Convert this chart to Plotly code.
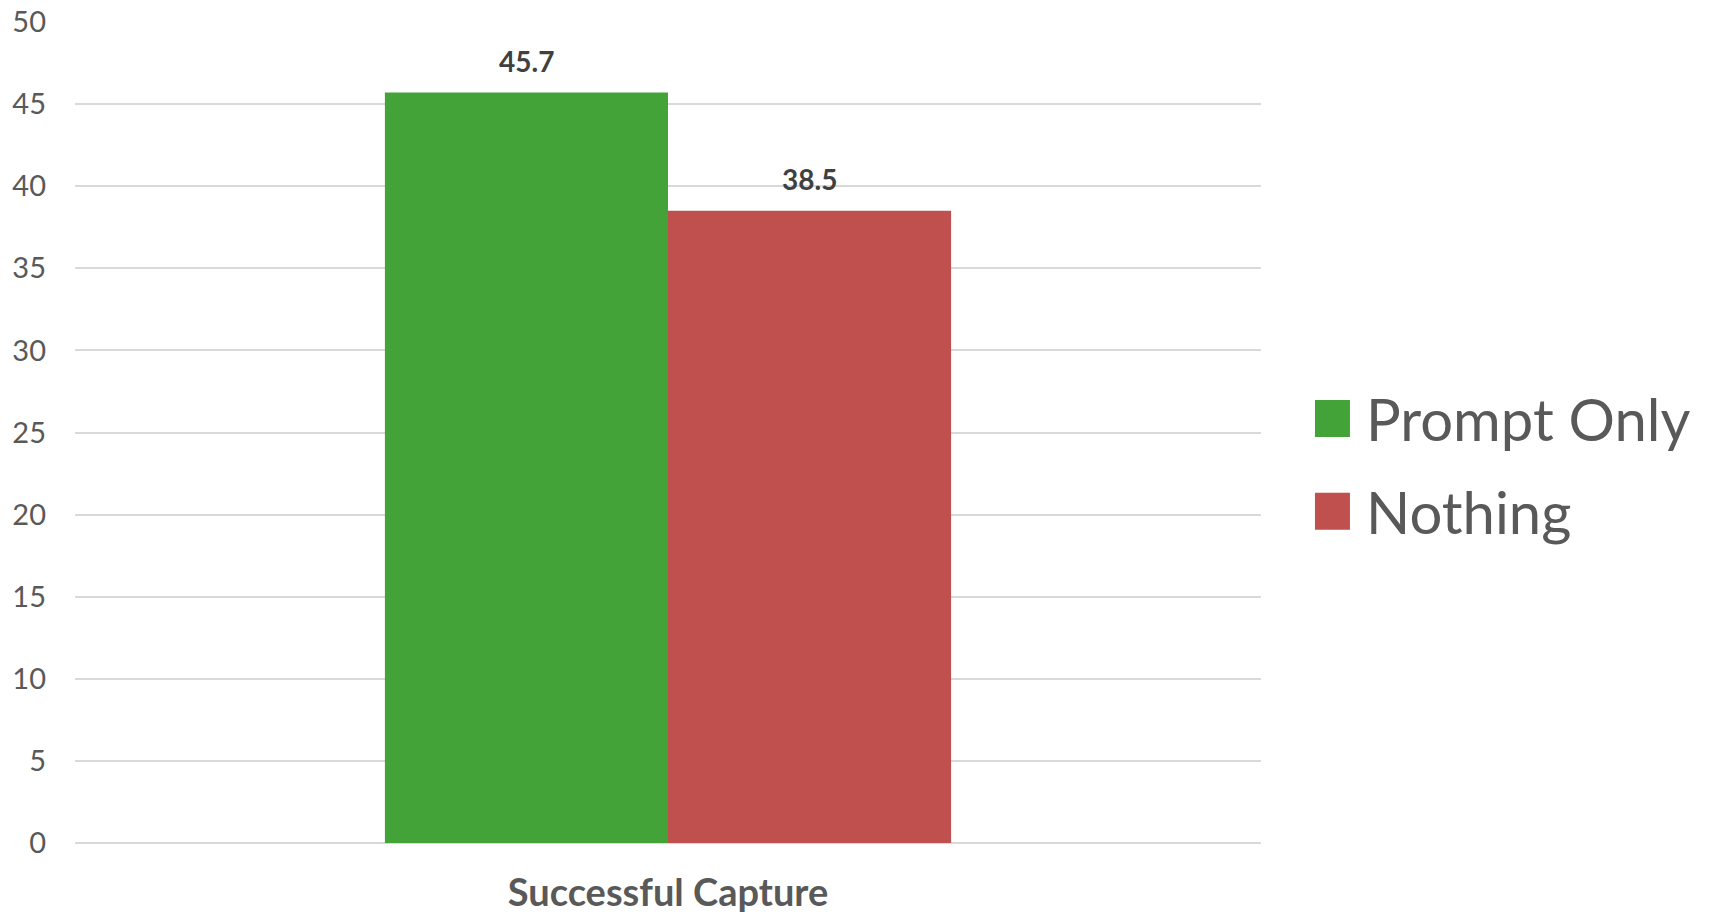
import plotly.graph_objects as go

# ---- data ----
categories = ["Successful Capture"]
series_names = ["Prompt Only", "Nothing"]
prompt_only = [45.7]
nothing = [38.5]
y_ticks = [0, 5, 10, 15, 20, 25, 30, 35, 40, 45, 50]

# ---- styles ----
colors = ["#43A338", "#C0504D"]
FONT = "Lato"
bar_w = 0.2387
offsets = [-bar_w, 0.0]

fig = go.Figure()
for name, vals, col, off in zip(series_names, [prompt_only, nothing], colors, offsets):
    fig.add_trace(go.Bar(
        x=categories, y=vals, name=name, marker=dict(color=col, line=dict(width=0)),
        width=bar_w, offset=off, showlegend=False,
    ))
    for c, v in zip(categories, vals):
        fig.add_annotation(
            x=categories.index(c) + off + bar_w / 2, y=v, xref="x", yref="y",
            text=f"<b>{v}</b>", showarrow=False, yanchor="bottom", yshift=13,
            font=dict(family=FONT, size=28, color="#404040"),
        )

# manual legend (large swatches like the reference)
leg_y = [0.517, 0.404]
for name, col, yc in zip(series_names, colors, leg_y):
    fig.add_shape(type="rect", xref="paper", yref="paper",
                  x0=1.0455, x1=1.0750, y0=yc - 0.0225, y1=yc + 0.0225,
                  fillcolor=col, line=dict(width=0))
    fig.add_annotation(xref="paper", yref="paper", x=1.087, y=yc, xanchor="left",
                       yanchor="middle", showarrow=False, text=name,
                       font=dict(family=FONT, size=58, color="#595959"))

fig.update_layout(
    width=1711, height=918,
    margin=dict(l=75, r=450, t=22, b=75, autoexpand=False),
    paper_bgcolor="white", plot_bgcolor="white",
    barmode="overlay",
    showlegend=False,
    font=dict(family=FONT, color="#595959"),
)
fig.update_xaxes(
    type="category", range=[-0.5, 0.5], showgrid=False, zeroline=False,
    showline=False, ticks="", ticklabelstandoff=24, automargin=False,
    tickfont=dict(family=FONT, size=38, color="#595959", weight="bold"),
)
fig.update_yaxes(
    range=[0, 50], tickvals=y_ticks, showgrid=True, gridcolor="#D9D9D9", gridwidth=2,
    zeroline=True, zerolinecolor="#D9D9D9", zerolinewidth=2, showline=False,
    ticks="", ticklabelstandoff=28, automargin=False,
    tickfont=dict(family=FONT, size=29, color="#595959"),
)

fig.write_html("out.html")
